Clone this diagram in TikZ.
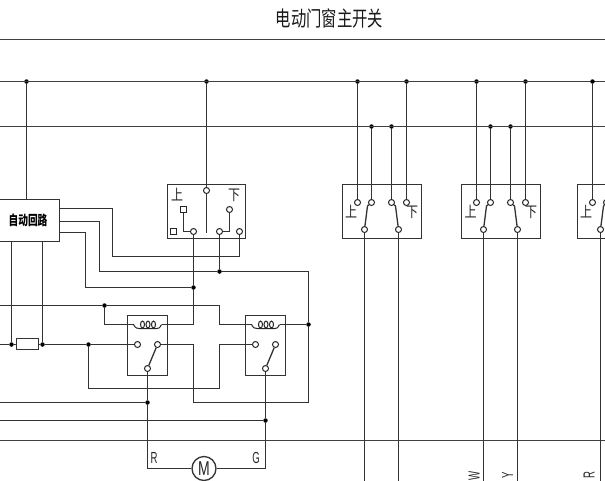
\documentclass[tikz,border=0pt]{standalone}
\usepackage{fontspec}
\setmainfont{Liberation Sans}
\newfontfamily\cjk{Noto Sans CJK SC}
\tikzset{
  wire/.style={draw=black!80,line width=1.3pt},
  hair/.style={draw=black!75,line width=1.3pt},
  boxed/.style={draw=black!80,line width=1.3pt,inner sep=0pt},
  term/.style={circle,draw=black!85,fill=white,line width=1pt,minimum size=6pt,inner sep=0pt},
  sq/.style={rectangle,draw=black!85,fill=white,line width=1pt,minimum size=6pt,inner sep=0pt},
  dot/.style={circle,fill=black,minimum size=4.5pt,inner sep=0pt},
  lbl/.style={inner sep=0pt,font=\cjk\fontsize{15}{15}\selectfont,xscale=0.8,text=black!85},
  tag/.style={inner sep=0pt,font=\fontsize{16}{16}\selectfont,xscale=0.6,text=black!85},
}
\begin{document}
\begin{tikzpicture}[x=1pt,y=-1pt]
\useasboundingbox (0,0) rectangle (605,480);
\clip (0,0) rectangle (605,480);
\fill[white] (0,0) rectangle (605,480);
% title
\node[inner sep=0pt,font=\cjk\fontsize{21}{21}\selectfont,xscale=0.73,text=black!90] (title) at (329.5,19) {电动门窗主开关};
% free ends
\foreach \n/\y in {a/39.5,b/81.5,c/126.5,d/440.5,e/305.5,f/402.5,g/420.5,h/344.5}{
  \coordinate (L\n) at (0,\y);
  \coordinate (R\n) at (605,\y);
}
% boxes
\node[boxed,minimum width=78pt,minimum height=54pt] (sw1) at (206.5,211.5) {};
\node[boxed,minimum width=70pt,minimum height=42pt] (auto) at (24.5,220.5) {};
\node[inner sep=0pt,font=\cjk\bfseries\fontsize{13.5}{13.5}\selectfont,xscale=0.72] (autot) at (28,220) {自动回路};
\node[boxed,minimum width=40pt,minimum height=60pt] (re1) at (147.5,345.5) {};
\node[boxed,minimum width=40pt,minimum height=60pt] (re2) at (265.5,345.5) {};
\node[boxed,minimum width=79pt,minimum height=54pt] (swa) at (382,211.5) {};
\node[boxed,minimum width=79pt,minimum height=54pt] (swb) at (501,211.5) {};
\node[boxed,minimum width=79pt,minimum height=54pt] (swc) at (617,211.5) {};
\node[boxed,fill=white,minimum width=22pt,minimum height=11pt] (res) at (27.5,344) {};
\node[boxed,circle,fill=white,minimum size=24pt] (mot) at (204,468.5) {};
\node[inner sep=0pt,font=\fontsize{20}{20}\selectfont,xscale=0.7,text=black!85] (mott) at (204,469) {M};
% labels
\node[lbl] (u1) at (177,195) {上};
\node[lbl] (d1) at (234,195) {下};
\node[lbl] (ua) at (351,212) {上};
\node[lbl] (da) at (412,212) {下};
\node[lbl] (ub) at (470.5,212) {上};
\node[lbl] (db) at (531,212) {下};
\node[lbl] (uc) at (586,212) {上};
\node[tag] (tr) at (154,457.5) {R};
\node[tag] (tg) at (256,457.5) {G};
\node[rotate=90,tag] (tw) at (474,475.5) {W};
\node[rotate=90,tag] (ty) at (507.5,475.5) {Y};
\node[rotate=90,tag] (tr2) at (589,475.5) {R};
% terminals, switch 1
\node[term] (s1c) at (206.5,190.5) {};
\node[sq] (s1a) at (183.5,209.5) {};
\node[sq] (s1n) at (173.5,231.5) {};
\node[term] (s1l) at (193.5,231.5) {};
\node[term] (s1m) at (219.5,231.5) {};
\node[term] (s1r) at (239.5,231.5) {};
\node[term] (s1b) at (229.5,209.5) {};
\coordinate (s1s) at (206.5,233);
% terminals, relays
\node[term] (r1a) at (137.5,344.5) {};
\node[term] (r1b) at (157.5,344.5) {};
\node[term] (r1c) at (147.5,368.5) {};
\node[term] (r2a) at (255.5,344.5) {};
\node[term] (r2b) at (275.5,344.5) {};
\node[term] (r2c) at (265.5,368.5) {};
% terminals, right switches
\foreach \n/\x in {a/0,b/119}{
  \node[term] (\n1) at ({357.5+\x},202.5) {};
  \node[term] (\n2) at ({371.5+\x},202.5) {};
  \node[term] (\n3) at ({391.5+\x},202.5) {};
  \node[term] (\n4) at ({406.5+\x},202.5) {};
  \node[term] (\n5) at ({364.5+\x},229.5) {};
  \node[term] (\n6) at ({398.5+\x},229.5) {};
  \coordinate (\n7) at ({367.5+\x},206);
  \coordinate (\n8) at ({395.5+\x},206);
}
\node[term] (c1) at (592.5,202.5) {};
\node[term] (c5) at (600.5,229.5) {};
\node[term] (c2) at (606.5,202.5) {};
\coordinate (c7) at (603.5,206);
% junction dots
\node[dot] (ja) at (26.5,81.5) {};
\node[dot] (jb) at (206.5,81.5) {};
\node[dot] (j1) at (357.5,81.5) {};
\node[dot] (j4) at (406.5,81.5) {};
\node[dot] (k1) at (476.5,81.5) {};
\node[dot] (k4) at (525.5,81.5) {};
\node[dot] (j2) at (371.5,126.5) {};
\node[dot] (j3) at (391.5,126.5) {};
\node[dot] (k2) at (490.5,126.5) {};
\node[dot] (k3) at (510.5,126.5) {};
\node[dot] (m1) at (219.5,271.5) {};
\node[dot] (m2) at (193.5,287.5) {};
\node[dot] (m3) at (104.5,305.5) {};
\node[dot] (m4) at (308.5,324.5) {};
\node[dot] (m5) at (11.5,344.5) {};
\node[dot] (m6) at (42.5,344.5) {};
\node[dot] (m7) at (88.5,344.5) {};
\node[dot] (m8) at (147.5,402.5) {};
\node[dot] (m9) at (265.5,420.5) {};
% corner points
\coordinate (o1) at (59.5,208.5);
\coordinate (o2) at (59.5,221.5);
\coordinate (o3) at (59.5,232.5);
\coordinate (p1) at (112.5,256.5);
\coordinate (p1t) at (112.5,208.5);
\coordinate (p2t) at (99.5,221.5);
\coordinate (p2) at (99.5,271.5);
\coordinate (p3t) at (85.5,232.5);
\coordinate (p3) at (85.5,287.5);
\coordinate (q1) at (219.5,305.5);
\coordinate (q2) at (219.5,324.5);
\coordinate (q3) at (193.5,324.5);
\coordinate (q4) at (104.5,324.5);
\coordinate (cl1) at (133.5,324.5);
\coordinate (cr1) at (161.5,324.5);
\coordinate (cl2) at (251.5,324.5);
\coordinate (cr2) at (279.5,324.5);
\coordinate (q5) at (193.5,344.5);
\coordinate (q6) at (193.5,402.5);
\coordinate (q7) at (308.5,402.5);
\coordinate (q8) at (219.5,344.5);
\coordinate (q9) at (219.5,388.5);
\coordinate (q10) at (88.5,388.5);
\coordinate (q11) at (308.5,271.5);
\coordinate (mr) at (147.5,468.5);
\coordinate (mg) at (265.5,468.5);
% long lines
\draw[hair] (La) -- (Ra);
\draw[hair] (Lb) -- (Rb);
\draw[hair] (Lc) -- (Rc);
\draw[hair] (Ld) -- (Rd);
% auto box wires
\draw[wire] (ja) -- (auto.north -| ja);
\draw[wire] (o1) -- (p1t) -- (p1) -- (s1r |- p1) -- (s1r);
\draw[wire] (o2) -- (p2t) -- (p2) -- (m1);
\draw[wire] (m1) -- (q11) -- (m4);
\draw[wire] (m1) -- (s1m);
\draw[wire] (o3) -- (p3t) -- (p3) -- (m2);
\draw[wire] (s1l) -- (m2) -- (q3) -- (cr1);
\draw[wire] (m5 |- auto.south) -- (m5);
\draw[wire] (m6 |- auto.south) -- (m6);
% top of switch 1
\draw[wire] (jb) -- (s1c);
\draw[wire] (s1c) -- (s1s);
\draw[wire] (s1a) -- (s1a |- s1l) -- (s1l);
\draw[wire] (s1b) -- (s1b |- s1m) -- (s1m);
% relays
\draw[wire] (Le) -- (m3) -- (q1) -- (q2) -- (cl2);
\draw[wire] (m3) -- (q4) -- (cl1);
\draw[wire] (m4) -- (cr2);
\draw[wire] (Lh) -- (m5) -- (res.west |- m5);
\draw[wire] (res.east |- m6) -- (m6) -- (m7) -- (r1a);
\draw[wire] (m7) -- (q10) -- (q9) -- (q8) -- (r2a);
\draw[wire] (r1b) -- (q5) -- (q6) -- (q7) -- (m4);
\draw[wire] (r1c) -- (r1b);
\draw[wire] (r2c) -- (r2b);
\draw[wire] (r1c) -- (m8);
\draw[wire] (Lf) -- (m8);
\draw[wire] (Lg) -- (m9);
\draw[wire] (r2c) -- (m9);
\draw[wire] (m8) -- (mr) -- (mot);
\draw[wire] (m9) -- (mg) -- (mot);
% coils
\foreach \x/\l/\r in {0/cl1/cr1,118/cl2/cr2}{
  \draw[line width=1pt,black!85] (\l) .. controls ({135.5+\x},328.5) and ({137.5+\x},328.5) .. ({139.5+\x},328.5) -- ({156.5+\x},328.5) .. controls ({158.5+\x},328.5) and ({159.5+\x},328.5) .. (\r);
  \foreach \e in {142.5,148,153.5}
    \draw[line width=1pt,black!85] ({\e+\x},324.5) ellipse (2pt and 3.4pt);
}
% right switches
\foreach \n/\t/\u/\v/\w in {a/j1/j2/j3/j4,b/k1/k2/k3/k4}{
  \draw[wire] (\t) -- (\n1);
  \draw[wire] (\u) -- (\n2);
  \draw[wire] (\v) -- (\n3);
  \draw[wire] (\w) -- (\n4);
  \draw[wire] (\n2) -- (\n7) -- (\n5);
  \draw[wire] (\n3) -- (\n8) -- (\n6);
  \draw[wire] (\n5) -- (\n5 |- 0,490);
  \draw[wire] (\n6) -- (\n6 |- 0,490);
}
\node[dot] (k5) at (c1 |- Rb) {};
\draw[wire] (k5) -- (c1);
\draw[wire] (c7) -- (c5);
\draw[wire] (c5) -- (c5 |- 0,490);
\draw[wire] (c2) -- (c7);
\draw[wire] (c2 |- Rc) -- (c2);
\end{tikzpicture}
\end{document}
